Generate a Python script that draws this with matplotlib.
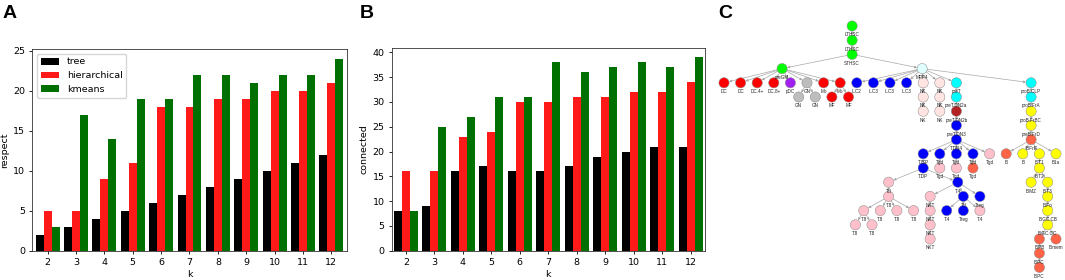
import matplotlib
matplotlib.use("Agg")
import matplotlib.pyplot as plt
import numpy as np
from matplotlib.patches import FancyArrowPatch

# ---------------- data: panels A and B ----------------
k_values = [2, 3, 4, 5, 6, 7, 8, 9, 10, 11, 12]
respect_tree = [2, 3, 4, 5, 6, 7, 8, 9, 10, 11, 12]
respect_hier = [5, 5, 9, 11, 18, 18, 19, 19, 20, 20, 21]
respect_kmeans = [3, 17, 14, 19, 19, 22, 22, 21, 22, 22, 24]
connected_tree = [8, 9, 16, 17, 16, 16, 17, 19, 20, 21, 21]
connected_hier = [16, 16, 23, 24, 30, 30, 31, 31, 32, 32, 34]
connected_kmeans = [8, 25, 27, 31, 31, 38, 36, 37, 38, 37, 39]
series_names = ["tree", "hierarchical", "kmeans"]

# ---------------- data: panel C (lineage tree) ----------------
node_labels = [
    "LTHSC", "LTHSC", "STHSC", "preGM", "MPP4",                       # 0-4
    "DC", "DC", "DC.4+", "DC.8+", "pDC", "GN", "Mo", "Mo",             # 5-12
    "GN", "GN", "MF", "MF",                                            # 13-16
    "ILC2", "ILC3", "ILC3", "ILC3", "NK", "NK", "preT", "proB.CLP",    # 17-24
    "NK", "NK", "NK", "NK",                                            # 25-28
    "preT.DN2a", "preT.DN2b", "preT.DN3", "T.DN4",                     # 29-32
    "T.ISP", "Tgd", "Tgd", "Tgd", "Tgd",                               # 33-37
    "T.DP", "Tgd", "Tgd", "Tgd",                                       # 38-41
    "Tcl", "T.4",                                                      # 42-43
    "T.8", "T.8", "T.8", "T.8", "T.8", "T.8", "T.8",                   # 44-50
    "NKT", "Tcl", "Treg", "NKT", "NKT", "NKT",                         # 51-56
    "T.4", "Treg", "T.4",                                              # 57-59
    "proB.FrA", "proB.FrBC", "preB.FrD", "B.FrE",                      # 60-63
    "B", "B", "B.T1", "B1a", "B.T2", "B.MZ", "B.T3", "B.Fo",           # 64-71
    "B.GC.CB", "B.GC.CC", "B.PB", "B.mem", "B.PC", "B.PC",             # 72-77
]
node_parents = [
    -1, 0, 1, 2, 2,
    3, 3, 3, 3, 3, 3, 3, 3,
    10, 10, 12, 12,
    4, 4, 4, 4, 4, 4, 4, 4,
    21, 25, 22, 27,
    23, 29, 30, 31,
    32, 32, 32, 32, 32,
    33, 34, 35, 36,
    38, 38,
    42, 44, 44, 44, 44, 45, 45,
    43, 43, 43, 51, 54, 55,
    52, 52, 52,
    24, 60, 61, 62,
    63, 63, 63, 63, 66, 68, 68, 70,
    71, 72, 73, 73, 74, 76,
]
node_colors = [
    "lime", "lime", "lime", "lime", "#e0ffff",
    "red", "red", "red", "red", "#a020f0", "#bdbdbd", "red", "red",
    "#bdbdbd", "#bdbdbd", "red", "red",
    "blue", "blue", "blue", "blue", "mistyrose", "mistyrose", "cyan", "cyan",
    "mistyrose", "mistyrose", "mistyrose", "mistyrose",
    "cyan", "firebrick", "blue", "blue",
    "blue", "blue", "blue", "blue", "pink",
    "blue", "pink", "pink", "tomato",
    "pink", "blue",
    "pink", "pink", "pink", "pink", "pink", "pink", "pink",
    "pink", "blue", "blue", "pink", "pink", "pink",
    "blue", "blue", "pink",
    "cyan", "yellow", "yellow", "tomato",
    "tomato", "yellow", "yellow", "yellow", "yellow", "yellow", "yellow", "yellow",
    "yellow", "yellow", "tomato", "tomato", "tomato", "tomato",
]

# ---------------- figure ----------------
plt.rcParams["font.size"] = 6.8
fig = plt.figure(figsize=(10.65, 2.8), dpi=100)
W, H = 1065.0, 280.0

bar_colors = ["black", "#ff1a1a", "#007000"]
width = 0.28


def bar_panel(ax, series, ylabel, xlim, yticks):
    x = np.array(k_values, dtype=float)
    for i, (vals, name) in enumerate(zip(series, series_names)):
        ax.bar(x + (i - 1) * width, vals, width, color=bar_colors[i], label=name)
    ax.set_xticks(k_values)
    ax.set_xlim(*xlim)
    ax.set_yticks(yticks)
    ax.set_xlabel("k", labelpad=2.5)
    ax.set_ylabel(ylabel, labelpad=3)
    ax.tick_params(length=2.5, width=0.6, pad=2.5)
    for s in ax.spines.values():
        s.set_linewidth(0.6)
        s.set_color("#333333")


axA = fig.add_axes([32 / W, 29 / H, 315 / W, 202 / H])
bar_panel(axA, [respect_tree, respect_hier, respect_kmeans], "respect",
          (1.45, 12.55), range(0, 30, 5))
axA.legend(loc="upper left", fontsize=6.8, borderaxespad=0.5)

axB = fig.add_axes([391.7 / W, 29.3 / H, 313.3 / W, 203 / H])
bar_panel(axB, [connected_tree, connected_hier, connected_kmeans], "connected",
          (1.5, 12.5), range(0, 45, 5))

# ---------------- panel C: tree layout ----------------
n_nodes = len(node_labels)
children = [[] for _ in range(n_nodes)]
for i, p in enumerate(node_parents):
    if p >= 0:
        children[p].append(i)
depth = [0] * n_nodes
for i in range(n_nodes):
    d, p = 0, node_parents[i]
    while p >= 0:
        d += 1
        p = node_parents[p]
    depth[i] = d


def layout(n):
    ch = children[n]
    if not ch:
        return {n: 0.0}, {depth[n]: [0.0, 0.0]}
    pos, contour, cx = {}, {}, []
    for c in ch:
        p, cont = layout(c)
        shift = 0.0
        if contour:
            shift = max(contour[d][1] - cont[d][0] + 1.0 for d in cont if d in contour)
        for node, v in p.items():
            pos[node] = v + shift
        for d, (lo, hi) in cont.items():
            lo, hi = lo + shift, hi + shift
            if d in contour:
                contour[d] = [min(contour[d][0], lo), max(contour[d][1], hi)]
            else:
                contour[d] = [lo, hi]
        cx.append(pos[c])
    pos[n] = float(np.mean(cx))
    contour[depth[n]] = [pos[n], pos[n]]
    return pos, contour


root = node_parents.index(-1)
pos, _ = layout(root)
xmin = min(pos.values())
xs = np.array([pos[i] - xmin for i in range(n_nodes)])
ys = np.array(depth, dtype=float)

sx, sy = 16.6, 14.2      # pixels per unit
x0, y0 = 724.0, 26.0     # pixel position of leftmost node / root level
axC = fig.add_axes([700 / W, 0, 365 / W, 1])
axC.set_xlim((700 - x0) / sx, (1065 - x0) / sx)
axC.set_ylim((280 - y0) / sy, (0 - y0) / sy)
axC.axis("off")

for i, p in enumerate(node_parents):
    if p < 0:
        continue
    arr = FancyArrowPatch((xs[p], ys[p]), (xs[i], ys[i]), arrowstyle="-|>",
                          mutation_scale=3.5, shrinkA=3.7, shrinkB=3.7,
                          color="#a8a8a8", lw=0.5, zorder=1)
    axC.add_patch(arr)

axC.scatter(xs, ys, s=54, c=node_colors, edgecolors="#8a8a8a",
            linewidths=0.35, zorder=3)
for i, lab in enumerate(node_labels):
    axC.annotate(lab, (xs[i], ys[i]), xytext=(0, -4.6), textcoords="offset points",
                 ha="center", va="top", fontsize=3.3, family="Liberation Sans",
                 color="#222222", zorder=4)

# ---------------- panel letters ----------------
for x, letter in [(3, "A"), (360, "B"), (718, "C")]:
    fig.text(x / W, 1 - 5 / H, letter, fontsize=14, fontweight="bold",
             family="Liberation Sans", va="top", ha="left")

fig.savefig("out.png", dpi=100)
